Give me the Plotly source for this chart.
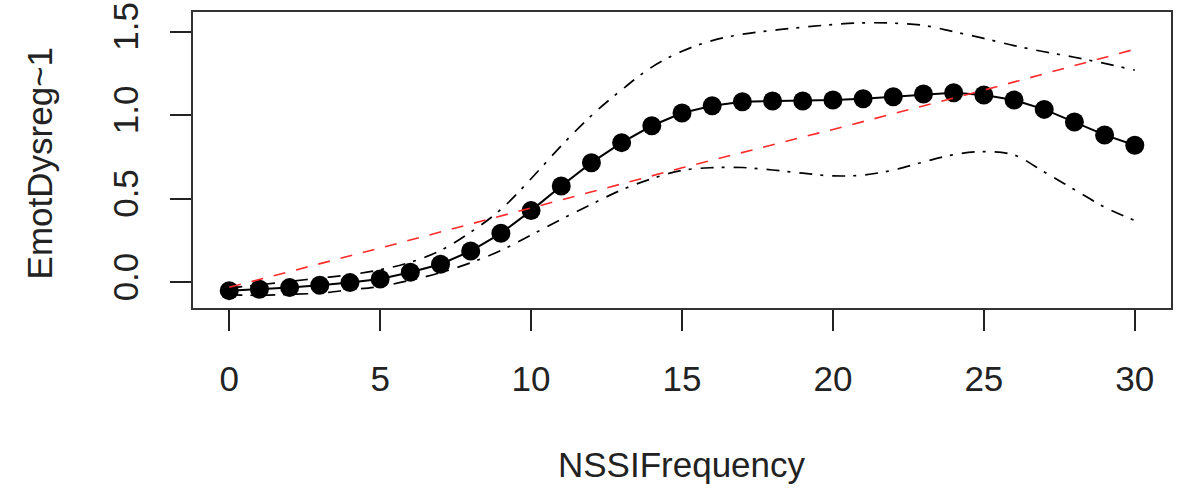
import plotly.graph_objects as go

# NSSI frequency grid (0..30) and the fitted effect on emotional dysregulation
nssi_freq = list(range(31))
fit = [-0.050, -0.042, -0.032, -0.018, -0.002, 0.020, 0.060, 0.108, 0.187, 0.293,
       0.429, 0.576, 0.716, 0.836, 0.937, 1.013, 1.057, 1.081, 1.085, 1.085,
       1.091, 1.099, 1.111, 1.127, 1.135, 1.121, 1.091, 1.035, 0.959, 0.882,
       0.820]
upper = [-0.035, -0.015, 0.005, 0.025, 0.045, 0.075, 0.120, 0.190, 0.300, 0.436,
         0.620, 0.817, 0.998, 1.152, 1.288, 1.383, 1.447, 1.485, 1.508, 1.527,
         1.543, 1.553, 1.551, 1.538, 1.500, 1.460, 1.417, 1.380, 1.347, 1.310,
         1.270]
lower = [-0.075, -0.078, -0.072, -0.065, -0.045, -0.025, 0.012, 0.058, 0.117, 0.190,
         0.283, 0.377, 0.467, 0.553, 0.620, 0.670, 0.686, 0.687, 0.672, 0.653,
         0.637, 0.642, 0.672, 0.720, 0.764, 0.782, 0.762, 0.660, 0.555, 0.450,
         0.370]

# linear reference line
lin_x = [0, 5, 10, 15, 20, 25, 30]
lin_y = [-0.030, 0.205, 0.445, 0.685, 0.915, 1.150, 1.395]

x_ticks = [0, 5, 10, 15, 20, 25, 30]
y_ticks = [0.0, 0.5, 1.0, 1.5]
y_tick_text = ["0.0", "0.5", "1.0", "1.5"]

FONT = "Liberation Sans, Arial, Helvetica, sans-serif"
band_dash = "13px,8px,3px,9px"

fig = go.Figure()
fig.add_trace(go.Scatter(
    x=nssi_freq, y=fit, mode="lines+markers",
    line=dict(color="black", width=2),
    marker=dict(color="black", size=19, line=dict(width=0)),
    showlegend=False))
fig.add_trace(go.Scatter(
    x=nssi_freq, y=upper, mode="lines", line_shape="spline",
    line=dict(color="black", width=1.7, dash=band_dash), showlegend=False))
fig.add_trace(go.Scatter(
    x=nssi_freq, y=lower, mode="lines", line_shape="spline",
    line=dict(color="black", width=1.7, dash=band_dash), showlegend=False))
fig.add_trace(go.Scatter(
    x=lin_x, y=lin_y, mode="lines",
    line=dict(color="#ff2a2a", width=1.6, dash="12px,11px"), showlegend=False))

axis_common = dict(
    showline=True, linecolor="#333333", linewidth=2, mirror=True,
    ticks="outside", ticklen=21, tickwidth=1.5, tickcolor="#222222",
    showgrid=False, zeroline=False, automargin=False,
    tickfont=dict(family=FONT, size=35, color="#222222"),
)

fig.update_xaxes(range=[-1.2, 31.2], tickvals=x_ticks, ticklabelstandoff=18,
                 **axis_common)
fig.update_yaxes(range=[-0.154, 1.618], tickvals=y_ticks, ticktext=y_tick_text,
                 tickangle=-90, ticklabelstandoff=18, **axis_common)

fig.add_annotation(text="NSSIFrequency", xref="paper", yref="paper",
                   x=0.5, y=-0.53, xanchor="center", yanchor="middle",
                   showarrow=False, font=dict(family=FONT, size=35, color="#222222"))
fig.add_annotation(text="EmotDysreg~1", xref="paper", yref="paper",
                   x=-0.156, y=0.49, xanchor="center", yanchor="middle",
                   textangle=-90, showarrow=False,
                   font=dict(family=FONT, size=35, color="#222222"))

fig.update_layout(
    width=1187, height=488,
    margin=dict(l=193, r=16, t=12, b=180),
    paper_bgcolor="white", plot_bgcolor="white",
)

fig.write_html("out.html")
